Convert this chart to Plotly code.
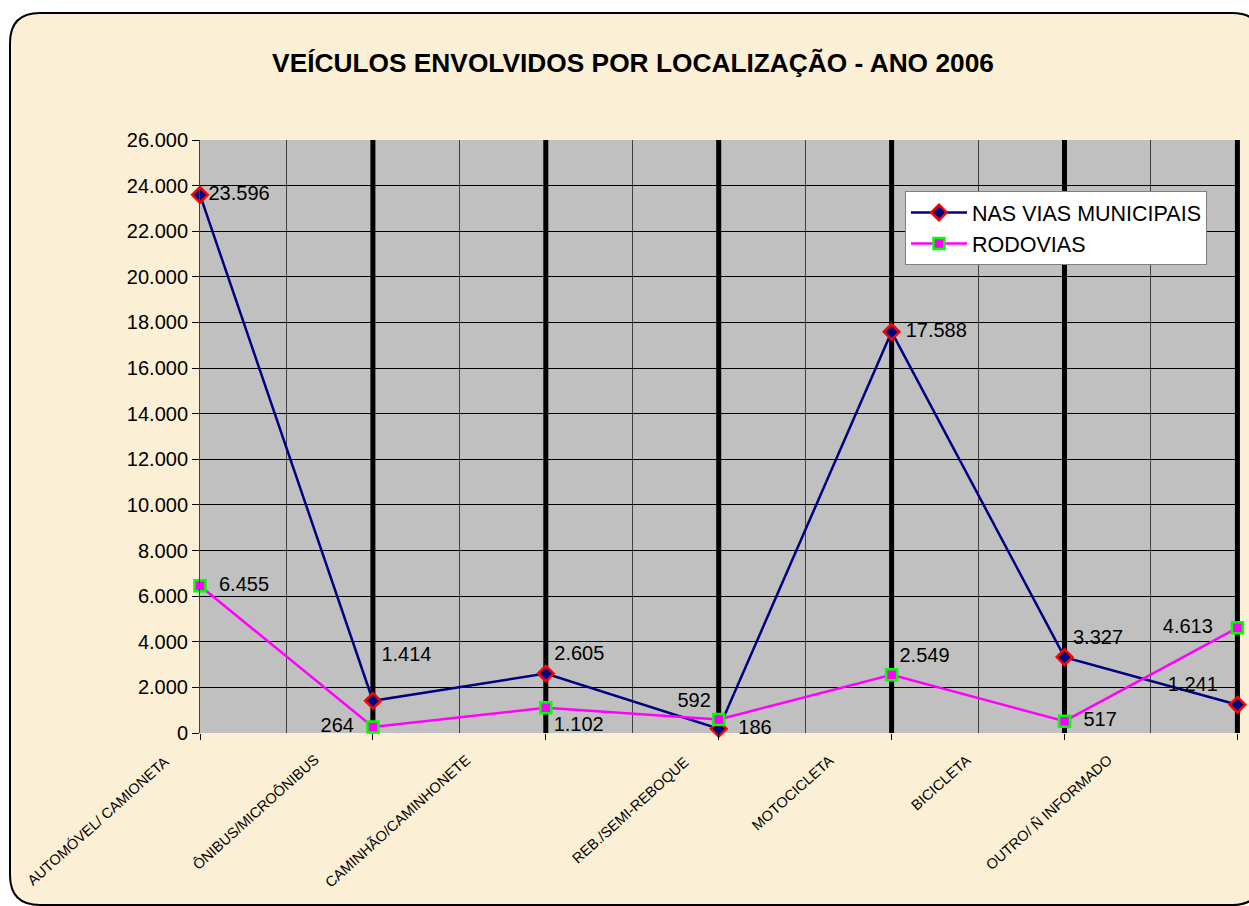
import plotly.graph_objects as go

categories = ["AUTOMÓVEL/ CAMIONETA", "ÔNIBUS/MICROÔNIBUS", "CAMINHÃO/CAMINHONETE",
              "REB./SEMI-REBOQUE", "MOTOCICLETA", "BICICLETA", "OUTRO/ Ñ INFORMADO"]
vias_municipais = [23596, 1414, 2605, 186, 17588, 3327, 1241]
rodovias = [6455, 264, 1102, 592, 2549, 517, 4613]
y_ticks = list(range(0, 26001, 2000))

xs = list(range(len(categories)))

# label placement offsets (pixels, relative to each category tick) to mimic the original layout
label_dx = [-102, -117, -148, -88, -99, -124, -188]
label_dy = [-88, -79, -88, -77, -60, -50, -79]

NB = "\u00a0"
V = "%{y:,.0f}"
vias_tpl = [V, V + "<br>" + NB, V, NB * 2 + V, NB + V, V, V + NB * 2]
vias_pos = ["middle right", "top right", "top right", "middle right",
            "middle right", "top right", "top left"]
rod_tpl = [NB * 2 + V, V + NB * 2, V, V, V, NB * 2 + V, V + NB * 3]
rod_pos = ["middle right", "middle left", "bottom right", "top left",
           "top right", "middle right", "middle left"]

W, H = 1249, 906
ml, mr, mt, mb = 200, 9, 140, 173
pw = W - ml - mr
ph = H - mt - mb


def px_x(p):
    return (p - ml) / pw


def px_y(p):
    return (H - mb - p) / ph


FONT = "Liberation Sans, Arial"

fig = go.Figure()

fig.add_trace(go.Scatter(
    x=xs, y=vias_municipais, name="NAS VIAS MUNICIPAIS",
    mode="lines+markers+text",
    line=dict(color="#000080", width=2.5),
    marker=dict(symbol="diamond", size=12, color="#000080",
                line=dict(color="#FF0000", width=2.5)),
    texttemplate=vias_tpl,
    textposition=vias_pos,
    textfont=dict(family=FONT, size=20, color="#000000"),
    cliponaxis=False,
))

fig.add_trace(go.Scatter(
    x=xs, y=rodovias, name="RODOVIAS",
    mode="lines+markers+text",
    line=dict(color="#FF00FF", width=2.5),
    marker=dict(symbol="square", size=11, color="#FF00FF",
                line=dict(color="#00FF00", width=2.5)),
    texttemplate=rod_tpl,
    textposition=rod_pos,
    textfont=dict(family=FONT, size=20, color="#000000"),
    cliponaxis=False,
))

shapes = []
# beige rounded background panel
x0, x1 = px_x(10), px_x(1262)
y0, y1 = px_y(905), px_y(13)
rx = 30 / pw
ry = 30 / ph
path = (f"M {x0+rx},{y1} L {x1-rx},{y1} Q {x1},{y1} {x1},{y1-ry} "
        f"L {x1},{y0+ry} Q {x1},{y0} {x1-rx},{y0} L {x0+rx},{y0} "
        f"Q {x0},{y0} {x0},{y0+ry} L {x0},{y1-ry} Q {x0},{y1} {x0+rx},{y1} Z")
shapes.append(dict(type="path", xref="paper", yref="paper", path=path,
                   fillcolor="#FBEFD5", line=dict(color="#000000", width=2),
                   layer="below"))
# gray plot area
shapes.append(dict(type="rect", xref="paper", yref="paper", x0=0, x1=1, y0=0, y1=1,
                   fillcolor="#C0C0C0", line=dict(width=0), layer="below"))
# thick vertical lines at categories
for xi in xs[1:]:
    shapes.append(dict(type="line", xref="x", yref="paper", x0=xi, x1=xi, y0=0, y1=1,
                       line=dict(color="#000000", width=5), layer="between"))

annotations = []
for xi, lab, dx, dy in zip(xs, categories, label_dx, label_dy):
    annotations.append(dict(
        x=xi, y=0, xref="x", yref="y", text=lab, showarrow=False,
        textangle=-42, xanchor="center", yanchor="middle",
        xshift=dx, yshift=dy,
        font=dict(family=FONT, size=14.5, color="#000000"),
    ))

fig.update_layout(
    width=W, height=H,
    margin=dict(l=ml, r=mr, t=mt, b=mb),
    paper_bgcolor="#FFFFFF",
    plot_bgcolor="rgba(0,0,0,0)",
    separators=",.",
    font=dict(family=FONT, color="#000000"),
    title=dict(text="<b>VEÍCULOS ENVOLVIDOS POR LOCALIZAÇÃO - ANO 2006</b>",
               x=633 / W, xanchor="center", y=1 - 63 / H, yanchor="middle",
               font=dict(size=26.3, family=FONT, color="#000000")),
    shapes=shapes,
    annotations=annotations,
    showlegend=True,
    legend=dict(x=px_x(905), y=px_y(191), xanchor="left", yanchor="top",
                bgcolor="#FFFFFF", bordercolor="#808080", borderwidth=1,
                font=dict(size=21.5, family=FONT),
                tracegroupgap=0, itemwidth=56),
)

fig.update_xaxes(
    range=[0, 6.015], tickmode="array", tickvals=xs, ticktext=categories,
    showticklabels=False, showgrid=False, zeroline=False,
    ticks="outside", ticklen=6, tickcolor="#000000", showline=False,
    minor=dict(tickmode="array", tickvals=[x + 0.5 for x in xs[:-1]],
               showgrid=True, gridcolor="#404040", gridwidth=1),
)
fig.update_yaxes(
    range=[0, 26000], tickmode="array", tickvals=y_ticks, tickformat=",.0f",
    tickfont=dict(size=20), showgrid=True, gridcolor="#000000", gridwidth=1,
    zeroline=False, ticks="outside", ticklen=7, tickcolor="#000000",
    showline=True, linecolor="#404040", linewidth=1,
)

fig.write_html("out.html", config={"displayModeBar": False},
               post_script="document.body.style.margin='0';")
